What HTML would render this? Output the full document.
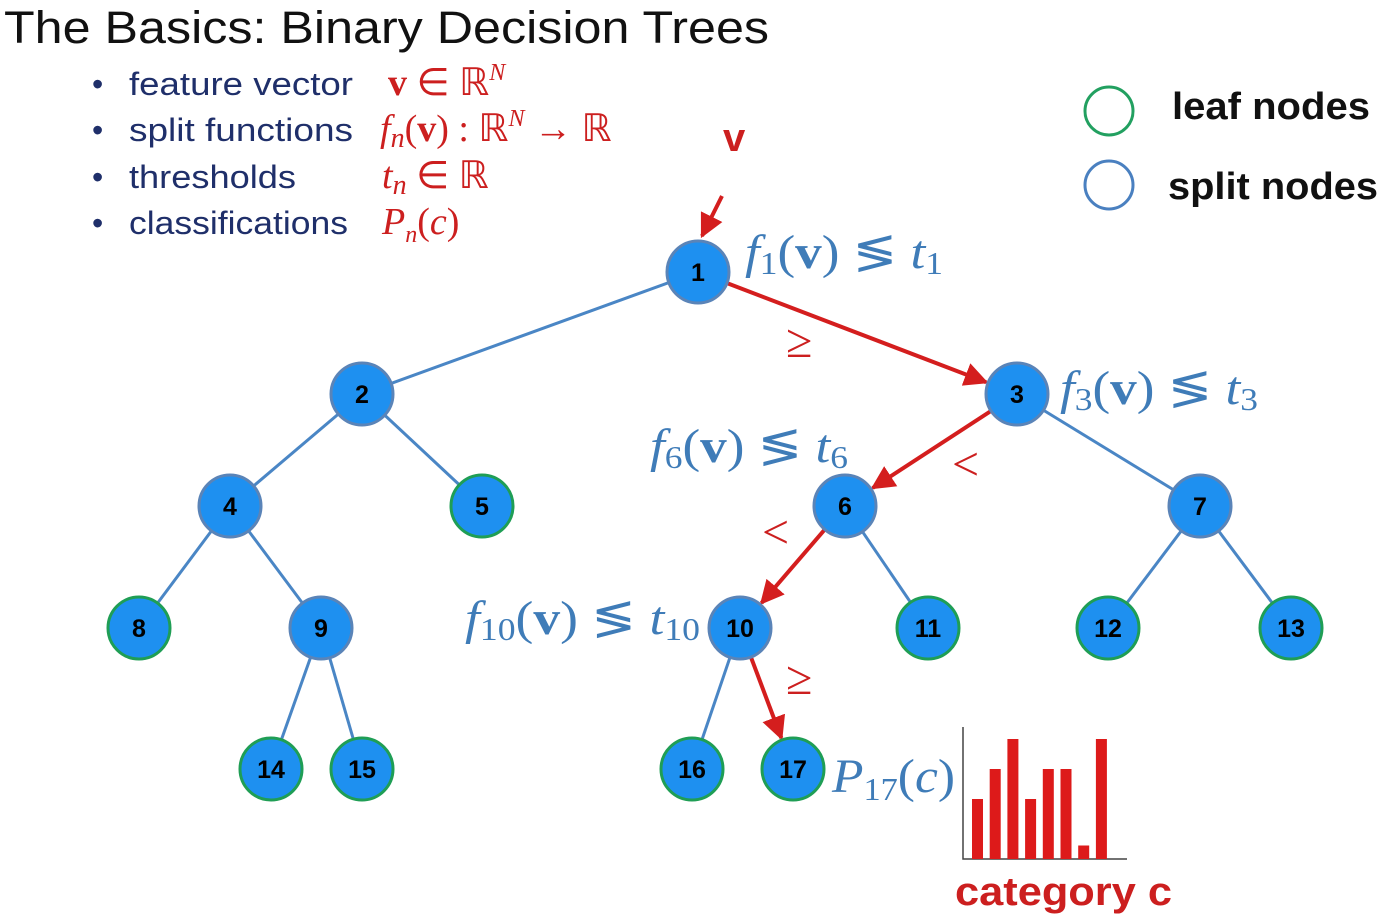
<!DOCTYPE html>
<html><head><meta charset="utf-8"><style>
html,body{margin:0;padding:0;background:#fff;width:1386px;height:918px;overflow:hidden}
svg{display:block}
.t{font-family:"Liberation Sans",sans-serif}
.m{font-family:"Liberation Serif",serif}
</style></head><body>
<svg width="1386" height="918" viewBox="0 0 1386 918">
<defs>
<marker id="ah" viewBox="0 0 10 10" refX="9" refY="5" markerWidth="6" markerHeight="6" orient="auto"><path d="M0,0 L10,5 L0,10 z" fill="#d41e1e"/></marker>
</defs>
<text class="t" x="4" y="43" font-size="45" fill="#111" textLength="765" lengthAdjust="spacingAndGlyphs">The Basics: Binary Decision Trees</text>
<g class="t" font-size="32" fill="#1f2f6a">
<text x="92" y="95">•</text><text x="129" y="95" textLength="224" lengthAdjust="spacingAndGlyphs">feature vector</text>
<text x="92" y="141">•</text><text x="129" y="141" textLength="224" lengthAdjust="spacingAndGlyphs">split functions</text>
<text x="92" y="188">•</text><text x="129" y="188" textLength="167" lengthAdjust="spacingAndGlyphs">thresholds</text>
<text x="92" y="234">•</text><text x="129" y="234" textLength="219" lengthAdjust="spacingAndGlyphs">classifications</text>
</g>
<g class="m" font-size="38" fill="#cc1f1f">
<text x="388" y="95"><tspan font-weight="bold">v</tspan> ∈ ℝ<tspan font-size="24" dy="-15" font-style="italic">N</tspan></text>
<text x="380" y="141"><tspan font-style="italic">f</tspan><tspan font-style="italic" font-size="28" dy="6">n</tspan><tspan dy="-6">(</tspan><tspan font-weight="bold">v</tspan>) : ℝ<tspan font-size="24" dy="-15" font-style="italic">N</tspan><tspan dy="15"> → ℝ</tspan></text>
<text x="382" y="188"><tspan font-style="italic">t</tspan><tspan font-style="italic" font-size="28" dy="6">n</tspan><tspan dy="-6"> ∈ ℝ</tspan></text>
<text x="382" y="234"><tspan font-style="italic">P</tspan><tspan font-style="italic" font-size="24" dy="8">n</tspan><tspan dy="-8">(</tspan><tspan font-style="italic">c</tspan>)</text>
</g>
<g>
<circle cx="1109" cy="111" r="24" fill="none" stroke="#22a060" stroke-width="3"/>
<text class="t" x="1172" y="119" font-size="38" font-weight="bold" fill="#111" textLength="198" lengthAdjust="spacingAndGlyphs">leaf nodes</text>
<circle cx="1109" cy="185" r="24" fill="none" stroke="#4a80c0" stroke-width="3"/>
<text class="t" x="1168" y="199" font-size="38" font-weight="bold" fill="#111" textLength="210" lengthAdjust="spacingAndGlyphs">split nodes</text>
</g>
<text class="t" x="723" y="151" font-size="40" font-weight="bold" fill="#cc1f1f">v</text>
<line x1="722" y1="196" x2="702" y2="236" stroke="#d41e1e" stroke-width="4" marker-end="url(#ah)"/>
<g id="edges"></g>
<g id="nodes"></g>
<g class="m" font-size="48" fill="#3f7cb8">
<text x="745" y="268" textLength="198" lengthAdjust="spacingAndGlyphs"><tspan font-style="italic">f</tspan><tspan font-size="32" dy="6">1</tspan><tspan dy="-6">(</tspan><tspan font-weight="bold">v</tspan>) ≶ <tspan font-style="italic">t</tspan><tspan font-size="32" dy="6">1</tspan></text>
<text x="1060" y="404" textLength="198" lengthAdjust="spacingAndGlyphs"><tspan font-style="italic">f</tspan><tspan font-size="32" dy="6">3</tspan><tspan dy="-6">(</tspan><tspan font-weight="bold">v</tspan>) ≶ <tspan font-style="italic">t</tspan><tspan font-size="32" dy="6">3</tspan></text>
<text x="650" y="462" textLength="198" lengthAdjust="spacingAndGlyphs"><tspan font-style="italic">f</tspan><tspan font-size="32" dy="6">6</tspan><tspan dy="-6">(</tspan><tspan font-weight="bold">v</tspan>) ≶ <tspan font-style="italic">t</tspan><tspan font-size="32" dy="6">6</tspan></text>
<text x="465" y="634" textLength="235" lengthAdjust="spacingAndGlyphs"><tspan font-style="italic">f</tspan><tspan font-size="32" dy="6">10</tspan><tspan dy="-6">(</tspan><tspan font-weight="bold">v</tspan>) ≶ <tspan font-style="italic">t</tspan><tspan font-size="32" dy="6">10</tspan></text>
<text x="832" y="792" textLength="123" lengthAdjust="spacingAndGlyphs"><tspan font-style="italic">P</tspan><tspan font-size="32" dy="8">17</tspan><tspan dy="-8">(</tspan><tspan font-style="italic">c</tspan>)</text>
</g>
<g class="m" font-size="48" fill="#cc1f1f">
<text x="786" y="357">≥</text>
<text x="952" y="480">&lt;</text>
<text x="762" y="548">&lt;</text>
<text x="786" y="694">≥</text>
</g>
<g id="hist"></g>
<text class="t" x="955" y="905" font-size="40" font-weight="bold" fill="#cc1f1f" textLength="217" lengthAdjust="spacingAndGlyphs">category c</text>
</svg>
<script>
const nodeIds=[1,2,3,4,5,6,7,8,9,10,11,12,13,14,15,16,17];
const nodeX=[698,362,1017,230,482,845,1200,139,321,740,928,1108,1291,271,362,692,793];
const nodeY=[272,394,394,506,506,506,506,628,628,628,628,628,628,769,769,769,769];
const leafNodes=[5,8,11,12,13,14,15,16,17];
const edgeList=[[1,2],[1,3],[2,4],[2,5],[3,6],[3,7],[4,8],[4,9],[6,10],[6,11],[7,12],[7,13],[9,14],[9,15],[10,16],[10,17]];
const redPath=["1-3","3-6","6-10","10-17"];
const classValues=[2,3,4,2,3,3,0.45,4];
const NS="http://www.w3.org/2000/svg";
const R=31;
const pos=id=>{const i=nodeIds.indexOf(id);return [nodeX[i],nodeY[i]];};
const eg=document.getElementById('edges');
edgeList.forEach(([a,b])=>{
  const [x1,y1]=pos(a),[x2,y2]=pos(b);
  const red=redPath.includes(a+"-"+b);
  const dx=x2-x1,dy=y2-y1,L=Math.hypot(dx,dy);
  const l=document.createElementNS(NS,'line');
  l.setAttribute('x1',x1);l.setAttribute('y1',y1);
  l.setAttribute('x2',red?x2-dx/L*(R+2):x2);l.setAttribute('y2',red?y2-dy/L*(R+2):y2);
  l.setAttribute('stroke',red?'#d41e1e':'#4a86c5');
  l.setAttribute('stroke-width',red?4:3);
  if(red)l.setAttribute('marker-end','url(#ah)');
  
  
  eg.appendChild(l);
});
const ng=document.getElementById('nodes');
nodeIds.forEach(id=>{
  const [x,y]=pos(id);
  const g=document.createElementNS(NS,'g');
  
  
  const c=document.createElementNS(NS,'circle');
  c.setAttribute('cx',x);c.setAttribute('cy',y);c.setAttribute('r',R);
  c.setAttribute('fill','#1e90f0');
  c.setAttribute('stroke',leafNodes.includes(id)?'#1f9e55':'#5a84b8');
  c.setAttribute('stroke-width',3);
  g.appendChild(c);
  const t=document.createElementNS(NS,'text');
  t.setAttribute('x',x);t.setAttribute('y',y+9);
  t.setAttribute('text-anchor','middle');
  t.setAttribute('font-family','Liberation Sans, sans-serif');
  t.setAttribute('font-weight','bold');t.setAttribute('font-size','25');
  t.setAttribute('fill','#000');
  t.textContent=id;
  g.appendChild(t);
  ng.appendChild(g);
});
const hg=document.getElementById('hist');
const bx0=963,by0=859,unit=30,step=17.7,bw=11;
const ax=document.createElementNS(NS,'path');
ax.setAttribute('d',`M${bx0} 727 V${by0} H1127`);
ax.setAttribute('fill','none');ax.setAttribute('stroke','#444');ax.setAttribute('stroke-width','1.5');


hg.appendChild(ax);
classValues.forEach((v,i)=>{
  const r=document.createElementNS(NS,'rect');
  r.setAttribute('x',bx0+9+i*step);r.setAttribute('y',by0-v*unit);
  r.setAttribute('width',bw);r.setAttribute('height',v*unit);
  r.setAttribute('fill','#dd1a1a');
  
  
  hg.appendChild(r);
});
</script>
</body></html>
